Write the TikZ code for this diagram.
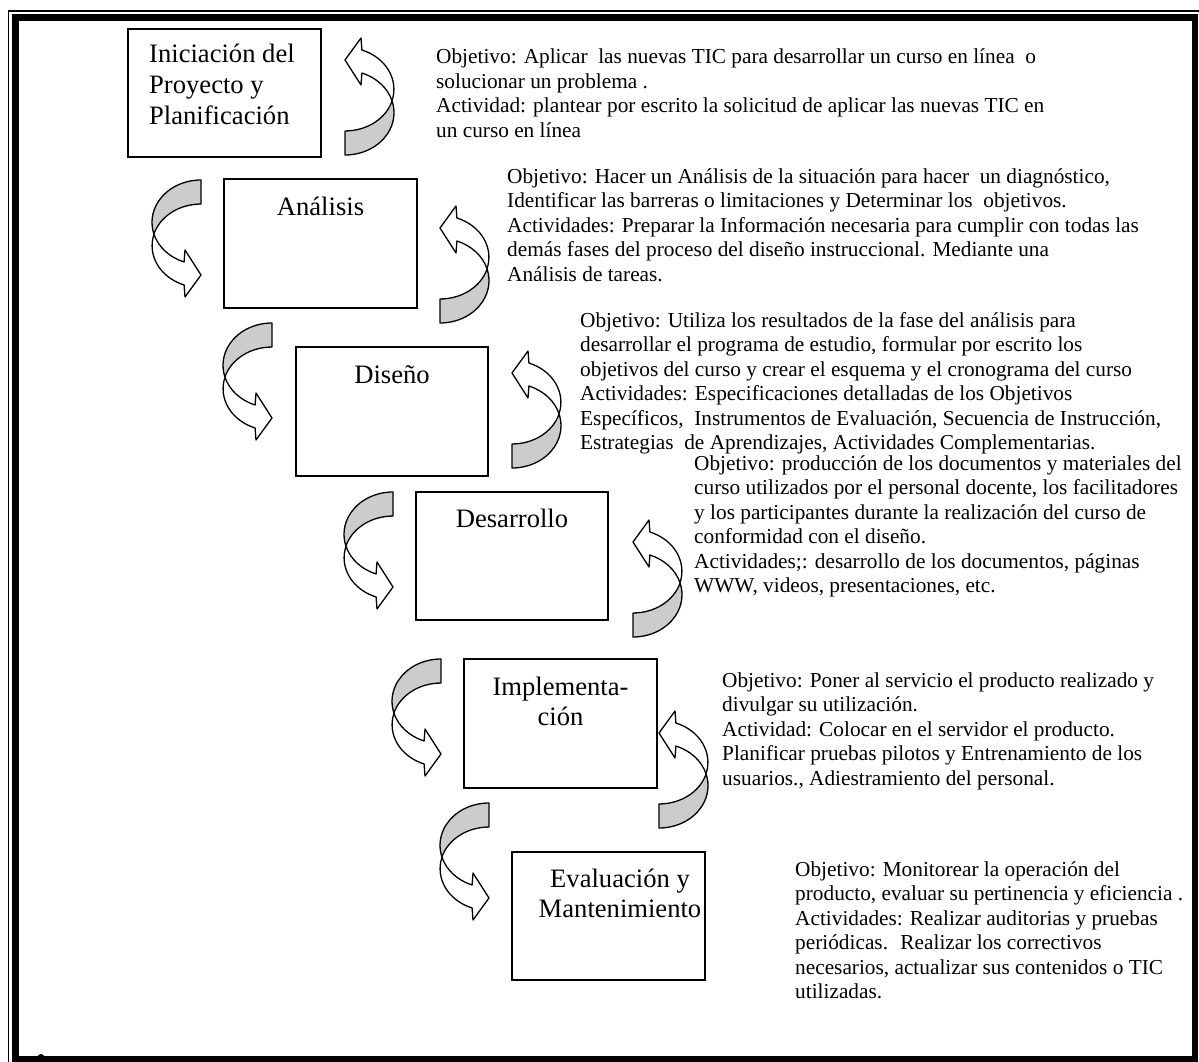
\documentclass[tikz,border=0pt]{standalone}
\usepackage{fontspec}
\setmainfont{Liberation Serif}
\newcommand\txtfont{\fontsize{21.3}{24.5}\selectfont}
\newcommand\boxfont{\fontsize{26.6}{30.6}\selectfont}
\newcommand\mylines[1]{\vtop{\lineskiplimit=-100pt\lineskip=0pt #1}}
\newcommand\myl[1]{\hbox{#1}}
\tikzset{
  boxst/.style={draw=black, line width=1.8pt, inner sep=0pt, minimum width=193pt, minimum height=128pt},
  txt/.style={font=\txtfont, inner sep=0pt, anchor=base west},
  ttl/.style={font=\boxfont, inner sep=0pt, anchor=base},
  arrln/.style={draw=black, line width=1.3pt, line join=round},
  curvarr/.pic={
    \draw[arrln, fill=black!20] (0,0)
      arc[start angle=-90, end angle=-196.1, x radius=49, y radius=42.3]
      arc[start angle=-163.6, end angle=-90, x radius=49, y radius=41.8] -- cycle;
    \draw[arrln, fill=white] (-47.08,54.03)
      arc[start angle=-196.1, end angle=-249.8, x radius=49, y radius=42.3]
      -- (-16,70) -- (0,95) -- (-16,117) -- (-16.9,105.0)
      arc[start angle=-249.7, end angle=-163.6, x radius=49, y radius=41.8] -- cycle;
  }
}
\begin{document}
\begin{tikzpicture}[x=1pt, y=-1pt]
\useasboundingbox (0,0) rectangle (1199,1062);
\fill[white] (0,0) rectangle (1199,1062);
\begin{scope}
\clip (0,0) rectangle (1199,1062);
\fill[black] (41,1057.5) circle[radius=3.5];
\draw[line width=6.5pt] (15.5,17.5) rectangle (1195,1059);
\draw[line width=1.3pt] (8.5,1075) -- (8.5,11) -- (1215,11);
\end{scope}

% boxes
\node[boxst] (ini) at (224.5,93) {};
\node[boxst, minimum height=129pt] (ana) at (320.5,243.5) {};
\node[boxst, minimum width=192pt, minimum height=129pt] (dis) at (392,411.5) {};
\node[boxst, minimum width=192pt] (des) at (512,556) {};
\node[boxst, minimum height=129pt] (imp) at (560.5,723.5) {};
\node[boxst] (eva) at (608.5,916) {};

% box titles
\node[font=\boxfont, inner sep=0pt, anchor=base west] (initxt) at (149,63)
  {\mylines{\myl{Iniciación del}\myl{Proyecto y}\myl{Planificación}}};
\node[ttl] (anatxt) at (320.5,215) {Análisis};
\node[ttl] (distxt) at (392,383) {Diseño};
\node[ttl] (destxt) at (512,527) {Desarrollo};
\node[ttl] (imptxta) at (560.5,695) {Implementa-};
\node[ttl] (imptxtb) at (560.5,725.6) {ción};
\node[ttl] (evatxta) at (620,887) {Evaluación y};
\node[ttl] (evatxtb) at (620,917.6) {Mantenimiento};

% left-side curved arrows
\pic (L1) at (201,180) {curvarr};
\pic (L2) at (272,323) {curvarr};
\pic (L3) at (393,492) {curvarr};
\pic (L4) at (441,659) {curvarr};
\pic (L5) at (489,803) {curvarr};
% right-side curved arrows
\pic[rotate=180] (R1) at (345,155) {curvarr};
\pic[rotate=180] (R2) at (440,323) {curvarr};
\pic[rotate=180] (R3) at (512,468) {curvarr};
\pic[rotate=180] (R4) at (633,637) {curvarr};
\pic[rotate=180] (R5) at (659,828) {curvarr};

% descriptions
\node[txt] (t1) at (436,64) {\mylines{%
\myl{Objetivo: Aplicar~ las nuevas TIC para desarrollar un curso en línea~ o}%
\myl{solucionar un problema .}%
\myl{Actividad: plantear por escrito la solicitud de aplicar las nuevas TIC en}%
\myl{un curso en línea}}};
\node[txt] (t2) at (507,183) {\mylines{%
\myl{Objetivo: Hacer un Análisis de la situación para hacer~ un diagnóstico,}%
\myl{Identificar las barreras o limitaciones y Determinar los~ objetivos.}%
\myl{Actividades: Preparar la Información necesaria para cumplir con todas las}%
\myl{demás fases del proceso del diseño instruccional. Mediante una}%
\myl{Análisis de tareas.}}};
\node[txt] (t3) at (580,327) {\mylines{%
\myl{Objetivo: Utiliza los resultados de la fase del análisis para}%
\myl{desarrollar el programa de estudio, formular por escrito los}%
\myl{objetivos del curso y crear el esquema y el cronograma del curso}%
\myl{Actividades: Especificaciones detalladas de los Objetivos}%
\myl{Específicos,~ Instrumentos de Evaluación, Secuencia de Instrucción,}%
\myl{Estrategias~ de Aprendizajes, Actividades Complementarias.}}};
\node[txt] (t4) at (694,470) {\mylines{%
\myl{Objetivo: producción de los documentos y materiales del}%
\myl{curso utilizados por el personal docente, los facilitadores}%
\myl{y los participantes durante la realización del curso de}%
\myl{conformidad con el diseño.}%
\myl{Actividades;: desarrollo de los documentos, páginas}%
\myl{WWW, videos, presentaciones, etc.}}};
\node[txt] (t5) at (722,687) {\mylines{%
\myl{Objetivo: Poner al servicio el producto realizado y}%
\myl{divulgar su utilización.}%
\myl{Actividad: Colocar en el servidor el producto.}%
\myl{Planificar pruebas pilotos y Entrenamiento de los}%
\myl{usuarios., Adiestramiento del personal.}}};
\node[txt] (t6) at (795,876) {\mylines{%
\myl{Objetivo: Monitorear la operación del}%
\myl{producto, evaluar su pertinencia y eficiencia .}%
\myl{Actividades: Realizar auditorias y pruebas}%
\myl{periódicas.~ Realizar los correctivos}%
\myl{necesarios, actualizar sus contenidos o TIC}%
\myl{utilizadas.}}};
\end{tikzpicture}
\end{document}
